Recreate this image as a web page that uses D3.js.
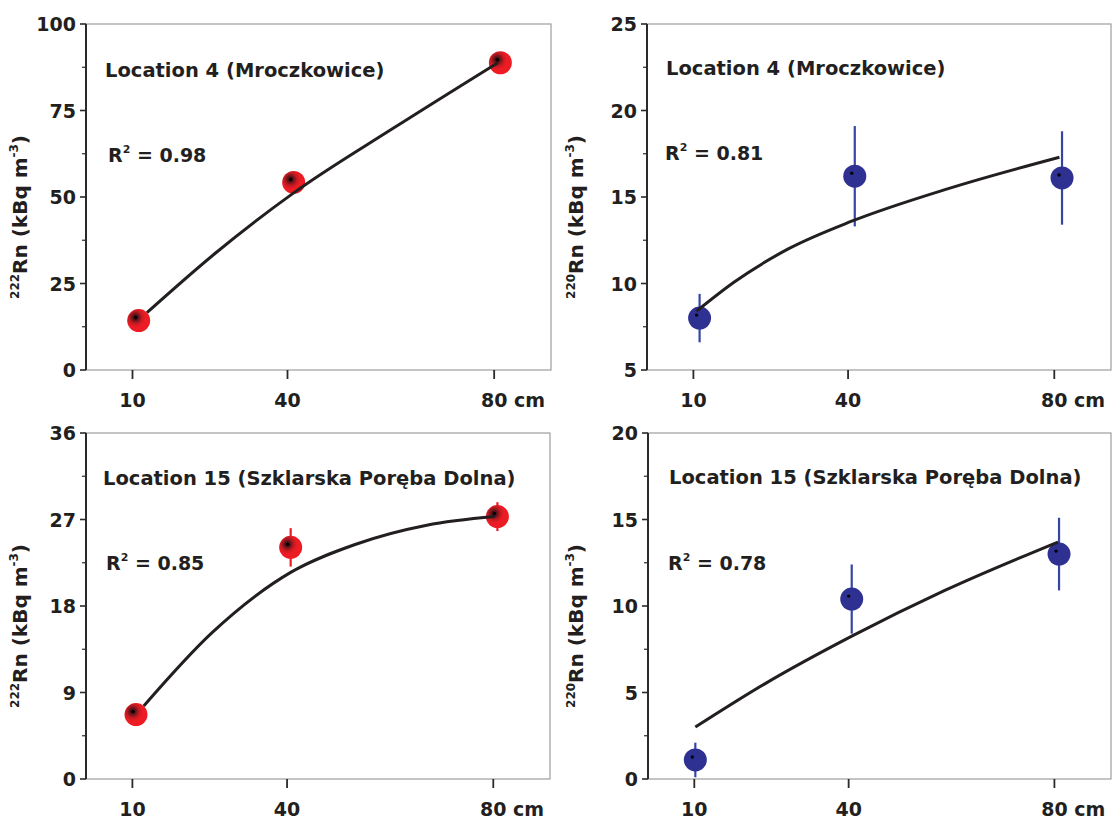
<!DOCTYPE html>
<html>
<head>
<meta charset="utf-8">
<script src="https://cdn.jsdelivr.net/npm/d3@7"></script>
<style>
  body { margin: 0; background: #fff; }
  svg text { font-family: "DejaVu Sans", "Liberation Sans", Arial, sans-serif; font-weight: bold; fill: #231f20; }
</style>
</head>
<body>
<svg id="chart" width="1114" height="819"></svg>
<script>
// depth ticks (cm)
const depthTicks = [10, 40, 80];
const depthDomain = [1, 91];

// Location 4, 222Rn
const loc4Rn222Depth = [11.2, 41.2, 81.2];
const loc4Rn222 = [14.3, 54.2, 88.8];
const loc4Rn222Err = [0, 0, 0];
const loc4Rn222Fit = [[12.8, 16.6], [25.9, 33.6], [41.2, 51.2], [60.6, 70.0], [80.7, 88.8]];

// Location 4, 220Rn
const loc4Rn220Depth = [11.2, 41.3, 81.5];
const loc4Rn220 = [8.0, 16.2, 16.1];
const loc4Rn220Err = [1.4, 2.9, 2.7];
const loc4Rn220Fit = [[10.6, 8.4], [18.0, 10.1], [28.4, 12.0], [40.7, 13.6], [59.6, 15.5], [81.0, 17.3]];

// Location 15, 222Rn
const loc15Rn222Depth = [10.7, 40.7, 80.8];
const loc15Rn222 = [6.7, 24.1, 27.3];
const loc15Rn222Err = [0, 2.0, 1.5];
const loc15Rn222Fit = [[12.2, 7.6], [25.4, 15.2], [40.7, 21.5], [53.2, 24.4], [67.1, 26.4], [80.3, 27.3]];

// Location 15, 220Rn
const loc15Rn220Depth = [10.2, 40.6, 80.9];
const loc15Rn220 = [1.1, 10.4, 13.0];
const loc15Rn220Err = [1.0, 2.0, 2.1];
const loc15Rn220Fit = [[10.2, 3.0], [23.7, 5.5], [40.9, 8.3], [58.7, 10.9], [80.7, 13.7]];

const red = '#ed1c24';
const blue = '#2e3192';

const svg = d3.select('#chart');

const defs = svg.append('defs');
const grad = defs.append('radialGradient')
  .attr('id', 'redGrad')
  .attr('cx', 0.36).attr('cy', 0.36).attr('r', 0.6);
grad.append('stop').attr('offset', 0).attr('stop-color', '#1a0808');
grad.append('stop').attr('offset', 0.15).attr('stop-color', '#4a1216');
grad.append('stop').attr('offset', 0.45).attr('stop-color', '#c01a22');
grad.append('stop').attr('offset', 0.7).attr('stop-color', red);
grad.append('stop').attr('offset', 1).attr('stop-color', red);

function drawPanel(p) {
  const g = svg.append('g');
  const x = d3.scaleLinear().domain(depthDomain).range([p.left, p.right]);
  const y = d3.scaleLinear().domain(p.yDomain).range([p.bottom, p.top]);

  // frame: grey top/right/bottom, dark left axis
  g.append('rect')
    .attr('x', p.left).attr('y', p.top)
    .attr('width', p.right - p.left).attr('height', p.bottom - p.top)
    .attr('fill', 'none').attr('stroke', '#9d9d9d').attr('stroke-width', 1.2);
  g.append('line')
    .attr('x1', p.left).attr('x2', p.left)
    .attr('y1', p.top).attr('y2', p.bottom)
    .attr('stroke', '#2a2a2a').attr('stroke-width', 2);

  // y ticks
  const step = p.yTicks[1] - p.yTicks[0];
  const minors = p.yTicks.slice(0, -1).map((t) => t + step / 2);
  g.selectAll('.ymaj').data(p.yTicks).join('line')
    .attr('x1', p.left - 6).attr('x2', p.left)
    .attr('y1', (d) => y(d)).attr('y2', (d) => y(d))
    .attr('stroke', '#2a2a2a').attr('stroke-width', 1.6);
  g.selectAll('.ymin').data(minors).join('line')
    .attr('x1', p.left - 4).attr('x2', p.left)
    .attr('y1', (d) => y(d)).attr('y2', (d) => y(d))
    .attr('stroke', '#2a2a2a').attr('stroke-width', 1.2);
  g.selectAll('.ylab').data(p.yTicks).join('text')
    .attr('x', p.left - 10)
    .attr('y', (d) => y(d) + 7)
    .attr('text-anchor', 'end')
    .style('font-size', '19px')
    .text((d) => d);

  // x ticks
  g.selectAll('.xt').data(depthTicks).join('line')
    .attr('x1', (d) => x(d)).attr('x2', (d) => x(d))
    .attr('y1', p.bottom).attr('y2', p.bottom + 9)
    .attr('stroke', '#2a2a2a').attr('stroke-width', 1.8);
  depthTicks.forEach((d, i) => {
    const t = g.append('text')
      .attr('y', p.bottom + 37)
      .style('font-size', '19px')
      .text(String(d));
    const w = t.node().getComputedTextLength();
    t.attr('x', x(d) - w / 2);
    if (i === depthTicks.length - 1) t.text(d + ' cm');
  });

  // y axis title
  const cy = (p.top + p.bottom) / 2 + 20;
  const yt = g.append('text')
    .attr('transform', `translate(${p.titleX},${cy}) rotate(-90)`)
    .attr('text-anchor', 'middle')
    .style('font-size', '20px');
  yt.append('tspan').style('font-size', '12px').attr('dy', -8).text(p.isotope);
  yt.append('tspan').attr('dy', 8).text('Rn (kBq m');
  yt.append('tspan').style('font-size', '12px').attr('dy', -9).text('-3');
  yt.append('tspan').attr('dy', 9).text(')');

  // location + R2 labels
  g.append('text')
    .attr('x', p.left + p.locDx).attr('y', p.top + p.locDy)
    .style('font-size', '19.5px')
    .text(p.location);
  const r2 = g.append('text')
    .attr('x', p.left + p.r2Dx).attr('y', p.top + p.r2Dy)
    .style('font-size', '19px');
  r2.append('tspan').text('R');
  r2.append('tspan').style('font-size', '11px').attr('dy', -9).text('2');
  r2.append('tspan').attr('dy', 9).text(' = ' + p.r2);

  // fit curve
  const line = d3.line()
    .x((d) => x(d[0])).y((d) => y(d[1]))
    .curve(d3.curveMonotoneX);

  const pts = p.depth.map((d, i) => ({ d, v: p.values[i], e: p.errors[i] }));

  // error bars
  g.selectAll('.err').data(pts.filter((q) => q.e > 0)).join('line')
    .attr('x1', (q) => x(q.d)).attr('x2', (q) => x(q.d))
    .attr('y1', (q) => y(q.v - q.e)).attr('y2', (q) => y(q.v + q.e))
    .attr('stroke', p.errColor).attr('stroke-width', 2.2);

  // markers
  g.selectAll('.mk').data(pts).join('circle')
    .attr('cx', (q) => x(q.d)).attr('cy', (q) => y(q.v))
    .attr('r', 11.5)
    .attr('fill', p.fill);

  g.append('path')
    .datum(p.fit)
    .attr('d', line)
    .attr('fill', 'none')
    .attr('stroke', '#231f20')
    .attr('stroke-width', 3);

  g.selectAll('.dot').data(pts).join('circle')
    .attr('cx', (q) => x(q.d) - 3).attr('cy', (q) => y(q.v) - 3)
    .attr('r', 1.7)
    .attr('fill', '#000');
}

drawPanel({
  left: 86, right: 551, top: 24, bottom: 370, titleX: 27,
  yDomain: [0, 100], yTicks: [0, 25, 50, 75, 100], isotope: '222',
  location: 'Location 4 (Mroczkowice)', locDx: 19, locDy: 53,
  r2: '0.98', r2Dx: 22, r2Dy: 138,
  depth: loc4Rn222Depth, values: loc4Rn222, errors: loc4Rn222Err, fit: loc4Rn222Fit,
  fill: 'url(#redGrad)', errColor: red,
});

drawPanel({
  left: 647, right: 1111, top: 24, bottom: 370, titleX: 583,
  yDomain: [5, 25], yTicks: [5, 10, 15, 20, 25], isotope: '220',
  location: 'Location 4 (Mroczkowice)', locDx: 19, locDy: 51,
  r2: '0.81', r2Dx: 18, r2Dy: 136,
  depth: loc4Rn220Depth, values: loc4Rn220, errors: loc4Rn220Err, fit: loc4Rn220Fit,
  fill: blue, errColor: '#3545a6',
});

drawPanel({
  left: 86, right: 550, top: 433, bottom: 779, titleX: 27,
  yDomain: [0, 36], yTicks: [0, 9, 18, 27, 36], isotope: '222',
  location: 'Location 15 (Szklarska Poręba Dolna)', locDx: 17, locDy: 52,
  r2: '0.85', r2Dx: 20, r2Dy: 137,
  depth: loc15Rn222Depth, values: loc15Rn222, errors: loc15Rn222Err, fit: loc15Rn222Fit,
  fill: 'url(#redGrad)', errColor: red,
});

drawPanel({
  left: 648, right: 1111, top: 433, bottom: 779, titleX: 583,
  yDomain: [0, 20], yTicks: [0, 5, 10, 15, 20], isotope: '220',
  location: 'Location 15 (Szklarska Poręba Dolna)', locDx: 21, locDy: 51,
  r2: '0.78', r2Dx: 20, r2Dy: 137,
  depth: loc15Rn220Depth, values: loc15Rn220, errors: loc15Rn220Err, fit: loc15Rn220Fit,
  fill: blue, errColor: '#3545a6',
});
</script>
</body>
</html>
